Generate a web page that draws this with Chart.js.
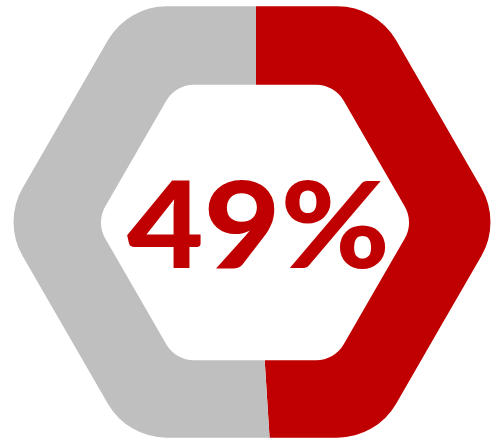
<!DOCTYPE html>
<html lang="en">
  <head>
    <meta charset="UTF-8" />
    <title>Hexagon Progress</title>
    <script src="https://cdn.jsdelivr.net/npm/chart.js"></script>
    <style>
        html, body {
            margin: 0;
            padding: 0;
            width: 492px;
            height: 441px;
            overflow: hidden;
            background: #ffffff;
        }
        #wrap {
            position: absolute;
            left: -104px;
            top: -138px;
            width: 720px;
            height: 720px;
        }
    </style>
  </head>

  <body>
    <div id="wrap">
        <canvas id="hexChart" width="720" height="720"></canvas>
    </div>

    <script>
        // progress value and its remainder
        const labels = ['Done', 'Remaining'];
        const values = [49, 51];
        const colors = ['#C00000', '#BFBFBF'];
        const centerText = '49%';

        // rounded hexagon with points on the left and right
        function hexPath(ctx, x, y, R, r) {
            const pts = [];
            for (let i = 0; i < 6; i++) {
                const a = Math.PI / 3 * i;
                pts.push([x + R * Math.cos(a), y + R * Math.sin(a)]);
            }
            const m0 = [(pts[0][0] + pts[1][0]) / 2, (pts[0][1] + pts[1][1]) / 2];
            ctx.beginPath();
            ctx.moveTo(m0[0], m0[1]);
            for (let i = 1; i <= 6; i++) {
                const p = pts[i % 6];
                const n = pts[(i + 1) % 6];
                ctx.arcTo(p[0], p[1], n[0], n[1], r);
            }
            ctx.closePath();
        }

        const hexPlugin = {
            id: 'hexPlugin',
            beforeDatasetsDraw(chart) {
                const { ctx, chartArea } = chart;
                const cx = (chartArea.left + chartArea.right) / 2;
                const cy = (chartArea.top + chartArea.bottom) / 2;
                ctx.save();
                hexPath(ctx, cx - 4, cy, 249, 68);
                ctx.clip();
            },
            afterDatasetsDraw(chart) {
                const { ctx, chartArea } = chart;
                const cx = (chartArea.left + chartArea.right) / 2;
                const cy = (chartArea.top + chartArea.bottom) / 2;
                ctx.restore();

                ctx.save();
                hexPath(ctx, cx - 1, cy + 0.5, 159, 32);
                ctx.fillStyle = '#ffffff';
                ctx.fill();

                // label stretched to a fixed width
                ctx.fillStyle = colors[0];
                ctx.font = '900 120px Lato';
                ctx.textAlign = 'center';
                ctx.textBaseline = 'alphabetic';
                const w = ctx.measureText(centerText).width;
                const sx = 263 / w;
                ctx.translate(cx + 2.5, cy + 46);
                ctx.scale(sx, 1);
                ctx.fillText(centerText, 0, 0);
                ctx.restore();
            }
        };

        new Chart(document.getElementById('hexChart'), {
            type: 'pie',
            data: {
                labels: labels,
                datasets: [{
                    data: values,
                    backgroundColor: colors,
                    borderWidth: 0
                }]
            },
            options: {
                responsive: false,
                animation: false,
                rotation: 0,
                layout: { padding: 0 },
                plugins: {
                    legend: { display: false },
                    tooltip: { enabled: false }
                }
            },
            plugins: [hexPlugin]
        });
    </script>
  </body>
</html>
